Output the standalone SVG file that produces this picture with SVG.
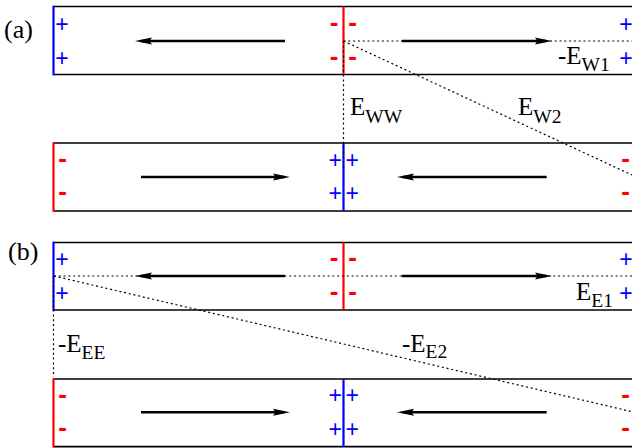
<svg xmlns="http://www.w3.org/2000/svg" width="632" height="448" viewBox="0 0 632 448">
<style>
.edge{stroke:#000;stroke-width:1.7;fill:none}
.red{stroke:#ff0000;stroke-width:2.2;fill:none}
.blue{stroke:#0000ff;stroke-width:2.2;fill:none}
.arrow{stroke:#000;stroke-width:2.6;fill:none;marker-end:url(#ah)}
.dot{stroke:#000;stroke-width:1.2;stroke-dasharray:2 2.8;fill:none}
.plus{font-family:"Liberation Sans",Arial,sans-serif;font-size:23px;fill:#0000ff;text-anchor:middle}
.minus{font-family:"Liberation Sans",Arial,sans-serif;font-size:26px;fill:#ff0000;text-anchor:middle;font-weight:bold}
.lbl{font-family:"Liberation Serif","Times New Roman",serif;font-size:25px;fill:#000}
.pl{font-size:26px}
.sub{font-size:19.5px}
</style>
<defs>
<marker id="ah" markerUnits="userSpaceOnUse" markerWidth="18" markerHeight="8" refX="11" refY="3.5" orient="auto" viewBox="0 0 18 7">
<path d="M0,0 L17,3.5 L0,7 L2.5,3.5 z" fill="#000"/>
</marker>
</defs>

<text class="lbl pl" x="4" y="38">(a)</text>
<text class="lbl pl" x="8" y="260">(b)</text>

<g id="a-top">
<line class="edge" x1="53.5" y1="6.5" x2="632" y2="6.5"/>
<line class="edge" x1="53.5" y1="74.5" x2="632" y2="74.5"/>
<line class="blue" x1="53.5" y1="5.7" x2="53.5" y2="75.3"/>
<line class="red" x1="343.5" y1="6.5" x2="343.5" y2="74.5"/>
<text class="plus" x="62" y="32">+</text>
<text class="plus" x="62" y="66">+</text>
<text class="minus" x="334" y="31">-</text>
<text class="minus" x="352.5" y="31">-</text>
<text class="minus" x="334" y="65.3">-</text>
<text class="minus" x="352.5" y="65.3">-</text>
<text class="plus" x="626" y="32">+</text>
<text class="plus" x="626" y="66">+</text>
</g>

<g id="a-bottom">
<line class="edge" x1="53.5" y1="143" x2="632" y2="143"/>
<line class="edge" x1="53.5" y1="211" x2="632" y2="211"/>
<line class="red" x1="53.5" y1="142.2" x2="53.5" y2="211.8"/>
<line class="blue" x1="343.5" y1="143" x2="343.5" y2="211"/>
<text class="minus" x="62.5" y="167">-</text>
<text class="minus" x="62.5" y="200.3">-</text>
<text class="plus" x="335.3" y="167.5">+</text>
<text class="plus" x="352.2" y="167.5">+</text>
<text class="plus" x="335.3" y="201">+</text>
<text class="plus" x="352.2" y="201">+</text>
<text class="minus" x="625.5" y="167">-</text>
<text class="minus" x="625.5" y="200">-</text>
</g>

<g id="b-top">
<line class="edge" x1="53.5" y1="242.5" x2="632" y2="242.5"/>
<line class="edge" x1="53.5" y1="310" x2="632" y2="310"/>
<line class="blue" x1="53.5" y1="241.7" x2="53.5" y2="310.8"/>
<line class="red" x1="343.5" y1="242.5" x2="343.5" y2="310"/>
<text class="plus" x="62" y="267.3">+</text>
<text class="plus" x="62" y="301">+</text>
<text class="minus" x="334" y="266.3">-</text>
<text class="minus" x="352.5" y="266.3">-</text>
<text class="minus" x="334" y="300.3">-</text>
<text class="minus" x="352.5" y="300.3">-</text>
<text class="plus" x="626" y="267.3">+</text>
<text class="plus" x="626" y="301">+</text>
</g>

<g id="b-bottom">
<line class="edge" x1="53.5" y1="379" x2="632" y2="379"/>
<line class="edge" x1="53.5" y1="446.7" x2="632" y2="446.7"/>
<line class="red" x1="53.5" y1="378.2" x2="53.5" y2="447.5"/>
<line class="blue" x1="343.5" y1="379" x2="343.5" y2="446.7"/>
<text class="minus" x="62.5" y="402.7">-</text>
<text class="minus" x="62.5" y="436.3">-</text>
<text class="plus" x="335.3" y="403.2">+</text>
<text class="plus" x="352.2" y="403.2">+</text>
<text class="plus" x="335.3" y="437">+</text>
<text class="plus" x="352.2" y="437">+</text>
<text class="minus" x="625.5" y="403">-</text>
<text class="minus" x="625.5" y="436.3">-</text>
</g>

<g id="connectors">
<line class="arrow" x1="285" y1="41" x2="141" y2="41"/>
<line class="arrow" x1="401.7" y1="41" x2="546" y2="41"/>
<line class="arrow" x1="141" y1="177" x2="284" y2="177"/>
<line class="arrow" x1="546.7" y1="177" x2="403" y2="177"/>
<line class="arrow" x1="285" y1="276" x2="141" y2="276"/>
<line class="arrow" x1="401.7" y1="276" x2="546" y2="276"/>
<line class="arrow" x1="141" y1="412.3" x2="284" y2="412.3"/>
<line class="arrow" x1="546.7" y1="412.3" x2="403" y2="412.3"/>

<line class="dot" x1="343.5" y1="41" x2="632" y2="41"/>
<line class="dot" x1="343.5" y1="41" x2="632" y2="175"/>
<line class="dot" x1="343.5" y1="41" x2="343.5" y2="168"/>
<line class="dot" x1="54" y1="276" x2="632" y2="276"/>
<line class="dot" x1="54" y1="276" x2="632" y2="411.7"/>
<line class="dot" x1="53.5" y1="276" x2="53.5" y2="377"/>
</g>

<g id="labels">
<text class="lbl" x="350" y="115">E<tspan class="sub" dy="8">WW</tspan></text>
<text class="lbl" x="518" y="115">E<tspan class="sub" dy="8">W2</tspan></text>
<text class="lbl" x="558" y="63.5">-E<tspan class="sub" dy="7.5">W1</tspan></text>
<text class="lbl" x="576" y="299.5">E<tspan class="sub" dy="7">E1</tspan></text>
<text class="lbl" x="58" y="352">-E<tspan class="sub" dy="7">EE</tspan></text>
<text class="lbl" x="402" y="352">-E<tspan class="sub" dy="6">E2</tspan></text>
</g>
</svg>
